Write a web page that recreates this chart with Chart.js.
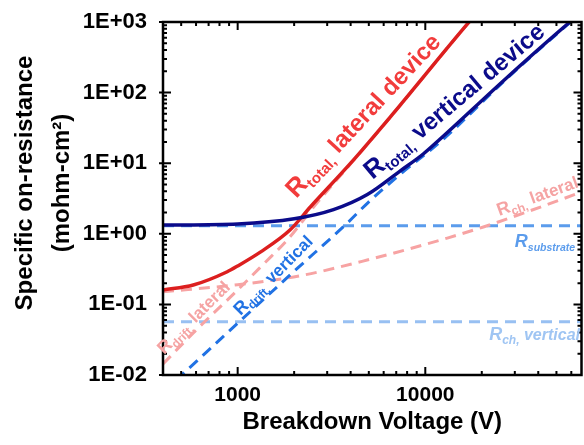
<!DOCTYPE html>
<html>
<head>
<meta charset="utf-8">
<script src="https://cdn.jsdelivr.net/npm/chart.js@4/dist/chart.umd.min.js"></script>
<style>
html, body { margin: 0; padding: 0; background: #ffffff; }
</style>
</head>
<body>
<canvas id="chart" width="584" height="445"></canvas>
<script>
// values (V, mohm-cm2)
const totalLateralV = [400, 580, 880, 1000, 1320, 1900, 2440, 4000, 6500, 17000, 20000];
const totalLateralR = [0.16, 0.188, 0.29, 0.35, 0.55, 1.13, 2.4, 10, 45, 980, 1600];

const totalVerticalV = [400, 1000, 2000, 3240, 4910, 7360, 9750, 12000, 27000, 59000, 70000];
const totalVerticalR = [1.33, 1.38, 1.63, 2.2, 3.6, 7.8, 13.5, 22, 160, 1000, 1450];

const driftLateralV = [400, 580, 1000, 1370, 1840, 2160, 2440, 4000, 6500, 17000, 20000];
const driftLateralR = [0.0143, 0.0395, 0.16, 0.37, 0.82, 1.38, 2.1, 9.8, 44.5, 978, 1600];

const driftVerticalV = [400, 515, 1000, 2000, 3840, 4940, 7360, 12000, 27000, 50000, 60000];
const driftVerticalR = [0.0057, 0.0106, 0.054, 0.295, 1.42, 2.75, 7.0, 20, 155, 670, 1020];

const chLateralV = [400, 1000, 2160, 4900, 13100, 20400, 33300, 68000];
const chLateralR = [0.151, 0.19, 0.255, 0.425, 0.87, 1.25, 1.96, 3.9];

const substrateV = [400, 68000];
const substrateR = [1.3, 1.3];

const chVerticalV = [400, 68000];
const chVerticalR = [0.057, 0.057];

const xTicks = [1000, 10000];
const yTicks = [0.01, 0.1, 1, 10, 100, 1000];

const FONT = "'Liberation Sans', Arial, sans-serif";

function points(xs, ys) {
    return xs.map((x, i) => ({ x: x, y: ys[i] }));
}

function line(data, color, width, dashed) {
    return {
        data: data,
        borderColor: color,
        borderWidth: width,
        borderDash: dashed ? [11, 7] : [],
        pointRadius: 0,
        fill: false,
        cubicInterpolationMode: 'monotone',
        clip: 0
    };
}

// annotations placed in data coordinates
const notes = [
    { v: 2055, r: 3.11, angle: -47, color: '#f23c3c', parts: [['R', 26, 0], ['total,', 15, 5], [' lateral device', 24, 0]] },
    { v: 5230, r: 5.78, angle: -40, color: '#0b0b8a', parts: [['R', 26, 0], ['total,', 15, 5], [' vertical device', 24, 0]] },
    { v: 406, r: 0.0192, angle: -45, color: '#f5a3a3', parts: [['R', 18, 0], ['drift,', 12, 4], [' lateral', 17, 0]] },
    { v: 1034, r: 0.0685, angle: -45, color: '#2172e4', parts: [['R', 18, 0], ['drift,', 12, 4], [' vertical', 17, 0]] },
    { v: 24800, r: 1.79, angle: -20, color: '#f5a3a3', parts: [['R', 18, 0], ['ch,', 12, 4], [' lateral', 17, 0]] },
    { v: 30000, r: 0.65, angle: 0, color: '#5b9cec', italic: true, parts: [['R', 18, 0], ['substrate', 10.5, 4]] },
    { v: 21900, r: 0.0313, angle: 0, color: '#9fc5f3', italic: true, parts: [['R', 18, 0], ['ch,', 12, 4], [' vertical', 16, 0]] }
];

const framePlugin = {
    id: 'frame',
    afterDatasetsDraw(chart) {
        const ctx = chart.ctx;
        const a = chart.chartArea;
        const xs = chart.scales.x;
        const ys = chart.scales.y;
        ctx.save();

        // frame
        ctx.strokeStyle = '#000';
        ctx.lineWidth = 2.5;
        ctx.strokeRect(a.left, a.top, a.right - a.left, a.bottom - a.top);

        // inward ticks on all sides
        ctx.lineWidth = 2;
        for (let d = 2; d <= 4; d++) {
            for (let k = 1; k <= 9; k++) {
                const v = k * Math.pow(10, d);
                if (v < xs.min || v > xs.max) continue;
                const px = xs.getPixelForValue(v);
                const len = k === 1 ? 8 : 4;
                ctx.beginPath();
                ctx.moveTo(px, a.bottom);
                ctx.lineTo(px, a.bottom - len);
                ctx.moveTo(px, a.top);
                ctx.lineTo(px, a.top + len);
                ctx.stroke();
            }
        }
        for (let d = -2; d <= 3; d++) {
            for (let k = 1; k <= 9; k++) {
                const v = k * Math.pow(10, d);
                if (v < ys.min || v > ys.max * 1.0001) continue;
                const py = ys.getPixelForValue(v);
                const len = k === 1 ? 8 : 4;
                ctx.beginPath();
                ctx.moveTo(a.left - (k === 1 ? 4 : 0), py);
                ctx.lineTo(a.left + len, py);
                ctx.moveTo(a.right, py);
                ctx.lineTo(a.right - len, py);
                ctx.stroke();
            }
        }

        // curve labels
        notes.forEach(n => {
            const px = xs.getPixelForValue(n.v);
            const py = ys.getPixelForValue(n.r);
            ctx.save();
            ctx.translate(px, py);
            ctx.rotate(n.angle * Math.PI / 180);
            ctx.fillStyle = n.color;
            ctx.textBaseline = 'alphabetic';
            ctx.textAlign = 'left';
            let x = 0;
            n.parts.forEach(([text, size, dy]) => {
                ctx.font = (n.italic ? 'italic ' : '') + 'bold ' + size + 'px ' + FONT;
                ctx.fillText(text, x, dy);
                x += ctx.measureText(text).width;
            });
            ctx.restore();
        });

        // y axis title
        ctx.fillStyle = '#000';
        ctx.font = 'bold 24px ' + FONT;
        ctx.textAlign = 'center';
        ctx.textBaseline = 'middle';
        ctx.save();
        ctx.translate(25, 183);
        ctx.rotate(-Math.PI / 2);
        ctx.fillText('Specific on-resistance', 0, 0);
        ctx.restore();
        ctx.save();
        ctx.translate(62, 183);
        ctx.rotate(-Math.PI / 2);
        ctx.fillText('(mohm-cm\u00B2)', 0, 0);
        ctx.restore();

        ctx.restore();
    }
};

const ctx = document.getElementById('chart').getContext('2d');

new Chart(ctx, {
    type: 'line',
    data: {
        datasets: [
            line(points(totalVerticalV, totalVerticalR), '#0b0b8a', 3.5, false),
            line(points(totalLateralV, totalLateralR), '#dc1f1f', 3.5, false),
            line(points(driftVerticalV, driftVerticalR), '#2172e4', 3, true),
            line(points(driftLateralV, driftLateralR), '#f7a3a3', 3, true),
            line(points(chLateralV, chLateralR), '#f7a3a3', 3, true),
            line(points(substrateV, substrateR), '#5b9cec', 3, true),
            line(points(chVerticalV, chVerticalR), '#98c0f2', 3, true)
        ]
    },
    options: {
        responsive: false,
        animation: false,
        layout: {
            padding: { top: 22, right: 2.5, bottom: 0, left: 0 }
        },
        plugins: {
            legend: { display: false },
            tooltip: { enabled: false }
        },
        scales: {
            x: {
                type: 'logarithmic',
                min: 400,
                max: 68000,
                grid: { display: false },
                border: { display: false },
                afterBuildTicks: function (scale) {
                    scale.ticks = xTicks.map(v => ({ value: v }));
                },
                afterFit: function (scale) {
                    scale.height = 70;
                },
                ticks: {
                    autoSkip: false,
                    maxRotation: 0,
                    padding: 0,
                    color: '#000',
                    font: { family: FONT, size: 21, weight: 'bold' },
                    callback: function (value) {
                        return String(value);
                    }
                },
                title: {
                    display: true,
                    text: 'Breakdown Voltage (V)',
                    color: '#000',
                    font: { family: FONT, size: 24, weight: 'bold' },
                    padding: { top: 0, bottom: 8 }
                }
            },
            y: {
                type: 'logarithmic',
                min: 0.01,
                max: 1000,
                grid: { display: false },
                border: { display: false },
                afterBuildTicks: function (scale) {
                    scale.ticks = yTicks.map(v => ({ value: v }));
                },
                afterFit: function (scale) {
                    scale.width = 163;
                },
                ticks: {
                    autoSkip: false,
                    padding: 8,
                    color: '#000',
                    font: { family: FONT, size: 22, weight: 'bold' },
                    callback: function (value) {
                        const exp = Math.round(Math.log10(value));
                        return '1E' + (exp < 0 ? '-' : '+') + String(Math.abs(exp)).padStart(2, '0');
                    }
                }
            }
        }
    },
    plugins: [framePlugin]
});
</script>
</body>
</html>
